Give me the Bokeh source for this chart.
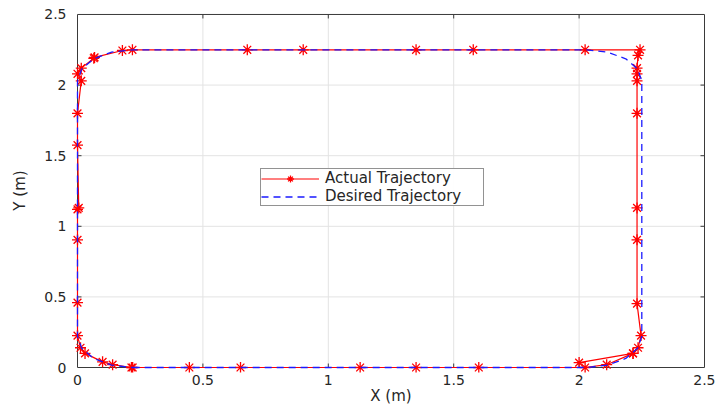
import numpy as np
from bokeh.plotting import figure
from bokeh.models import Range1d, FixedTicker, NumeralTickFormatter, Legend, LegendItem
from bokeh.embed import file_html
from bokeh.resources import INLINE

# Actual trajectory
x_act = [2.0, 2.215, 2.235, 2.247, 2.231, 2.231, 2.231, 2.231, 2.231, 2.231, 2.231, 2.235, 2.243,
         2.024, 1.578, 1.35, 0.9, 0.677, 0.219, 0.179, 0.068, 0.065, 0.015, 0.0, 0.015,
         0.0, 0.0, 0.005, 0.0, 0.0, 0.0, 0.0, 0.012, 0.03, 0.1, 0.14, 0.215, 0.22,
         0.446, 0.65, 1.127, 1.35, 1.6, 2.024, 2.11, 2.215]
y_act = [0.035, 0.1, 0.14, 0.226, 0.452, 0.904, 1.13, 1.80, 2.03, 2.08, 2.12, 2.21, 2.25,
         2.25, 2.25, 2.25, 2.25, 2.25, 2.25, 2.245, 2.196, 2.19, 2.12, 2.08, 2.03,
         1.80, 1.575, 1.13, 1.12, 0.904, 0.46, 0.226, 0.14, 0.1, 0.04, 0.02, 0.0, 0.0,
         0.0, 0.0, 0.0, 0.0, 0.0, 0.0, 0.02, 0.1]

# Desired trajectory (rounded rectangle vertices)
x_des = [0.22, 2.03, 2.114, 2.186, 2.233, 2.25, 2.25, 2.233, 2.186, 2.114, 2.03,
         0.22, 0.136, 0.064, 0.017, 0.0, 0.0, 0.017, 0.064, 0.136, 0.22]
y_des = [0.0, 0.0, 0.017, 0.064, 0.136, 0.22, 2.03, 2.114, 2.186, 2.233, 2.25,
         2.25, 2.233, 2.186, 2.114, 2.03, 0.22, 0.136, 0.064, 0.017, 0.0]

ticks = [0, 0.5, 1, 1.5, 2, 2.5]
axis_lo, axis_hi = 0.0, 2.5

FONT = "DejaVu Sans"
TXT = "#262626"
BOX = "#3a3a3a"

# small padding of the frame so that markers on the axes are not clipped
padx = 6 / 250.8
pady_top = 6 / 141.6
pady_bot = 5 / 141.6

p = figure(width=715, height=407, output_backend="svg", toolbar_location=None,
           x_range=Range1d(axis_lo - padx, axis_hi + padx),
           y_range=Range1d(axis_lo - pady_bot, axis_hi + pady_top),
           min_border_left=71, min_border_right=5, min_border_top=8, min_border_bottom=34)
p.background_fill_color = "white"
p.border_fill_color = "white"
p.outline_line_color = None
p.grid.visible = False

for ax, lab in ((p.xaxis[0], "X (m)"), (p.yaxis[0], "Y (m)")):
    ax.ticker = FixedTicker(ticks=ticks)
    ax.formatter = NumeralTickFormatter(format="0.[0]")
    ax.axis_label = lab
    ax.axis_label_text_font = FONT
    ax.axis_label_text_font_style = "normal"
    ax.axis_label_text_font_size = "15px"
    ax.axis_label_text_color = TXT
    ax.major_label_text_font = FONT
    ax.major_label_text_font_size = "14px"
    ax.major_label_text_color = TXT
    ax.axis_line_color = None
    ax.major_tick_line_color = None
    ax.minor_tick_line_color = None
p.xaxis.major_label_standoff = -4
p.xaxis.axis_label_standoff = -1
p.yaxis.major_label_standoff = -1
p.yaxis.axis_label_standoff = 12

t = np.array(ticks, dtype=float)
inner = t[(t > axis_lo) & (t < axis_hi)]
# grid
p.segment(x0=inner, y0=axis_lo, x1=inner, y1=axis_hi, line_color="#e3e3e3", line_width=1)
p.segment(x0=axis_lo, y0=inner, x1=axis_hi, y1=inner, line_color="#e3e3e3", line_width=1)
# axes box
p.quad(left=[axis_lo], right=[axis_hi], bottom=[axis_lo], top=[axis_hi],
       fill_color=None, line_color=BOX, line_width=1)
# inward ticks (4 px)
tx = 4 / 250.8
ty = 4 / 141.6
p.segment(x0=inner, y0=axis_lo, x1=inner, y1=axis_lo + ty, line_color=BOX)
p.segment(x0=inner, y0=axis_hi, x1=inner, y1=axis_hi - ty, line_color=BOX)
p.segment(x0=axis_lo, y0=inner, x1=axis_lo + tx, y1=inner, line_color=BOX)
p.segment(x0=axis_hi, y0=inner, x1=axis_hi - tx, y1=inner, line_color=BOX)

r_line = p.line(x_act, y_act, line_color="#ff0000", line_width=1.2)
r_mark = p.scatter(x_act, y_act, marker="asterisk", size=11, line_color="#ff0000", line_width=1.3)
r_des = p.line(x_des, y_des, line_color="#1a1aff", line_width=1.3, line_dash="7 5")

legend = Legend(items=[LegendItem(label="Actual Trajectory", renderers=[r_line, r_mark]),
                       LegendItem(label="Desired Trajectory", renderers=[r_des])],
                location=(189, 166))
legend.label_text_font = FONT
legend.label_text_font_size = "15px"
legend.label_text_color = TXT
legend.glyph_width = 58
legend.glyph_height = 17
legend.label_height = 14
legend.label_width = 158
legend.label_standoff = 6
legend.padding = 0
legend.spacing = 0
legend.margin = 0
legend.border_line_color = "#262626"
legend.border_line_width = 1
legend.background_fill_color = "white"
p.add_layout(legend, "center")

open("out.html", "w").write(file_html(p, INLINE))
